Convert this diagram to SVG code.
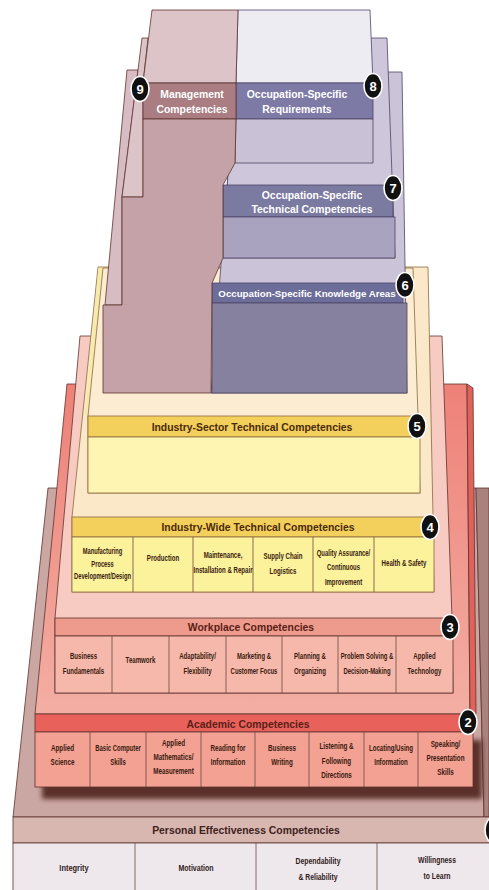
<svg xmlns="http://www.w3.org/2000/svg" width="489" height="890" viewBox="0 0 489 890">
<style>
.o{stroke:#5e332f;stroke-width:.8}
.ol{stroke:#4e4466;stroke-width:.8}
.oy{stroke:#8a6a40;stroke-width:.8}
.dv{stroke:#6e4a42;stroke-width:.8;fill:none}
.t{font-family:"Liberation Sans",Arial,Helvetica,sans-serif;font-weight:bold;text-anchor:middle}
.h{font-size:10.4px}
.w{fill:#ffffff}
.dy{fill:#4a2a0e}
.dr{fill:#5a1e16}
.c{font-size:9px;fill:#3a1a0e}
.p{font-size:9.8px;fill:#2e1a18}
.be{fill:#111111;stroke:#ffffff;stroke-width:1.6}
.bn{font-size:13px;fill:#ffffff}
</style>
<defs>
<linearGradient id="g2" x1="0" y1="0" x2="0" y2="1">
<stop offset="0" stop-color="#ee8178"/>
<stop offset="1" stop-color="#f3aea3"/>
</linearGradient>
<filter id="sh" x="-10%" y="-20%" width="120%" height="140%">
<feGaussianBlur stdDeviation="2.5"/>
</filter>
</defs>
<rect x="0" y="0" width="489" height="890" fill="#ffffff"/>

<g id="tier1-personal">
<polygon class="o" points="48,488 476,488 484,817 13,817" fill="#caa7a3"/>
<polygon class="o" points="476,488 489,488 489,817 484,817" fill="#a9817d"/>
<rect class="o" x="13" y="817" width="478" height="26" fill="#d8b7b1"/>
<rect class="o" x="13" y="843" width="478" height="49" fill="#eee8ed"/>
<line class="dv" x1="135" y1="843" x2="135" y2="890"/>
<line class="dv" x1="256" y1="843" x2="256" y2="890"/>
<line class="dv" x1="377" y1="843" x2="377" y2="890"/>
<text class="t h" x="246" y="834" fill="#3e2220">Personal Effectiveness Competencies</text>
<text class="t p" transform="matrix(.76 0 0 1 74 0)"><tspan x="0" y="871">Integrity</tspan></text>
<text class="t p" transform="matrix(.72 0 0 1 196 0)"><tspan x="0" y="871">Motivation</tspan></text>
<text class="t p" transform="matrix(.7 0 0 1 318 0)"><tspan x="0" y="864">Dependability</tspan><tspan x="0" y="880">&amp; Reliability</tspan></text>
<text class="t p" transform="matrix(.7 0 0 1 437 0)"><tspan x="0" y="863">Willingness</tspan><tspan x="0" y="879">to Learn</tspan></text>
<ellipse class="be" cx="494" cy="830" rx="9" ry="13"/>
</g>

<g id="tier2-academic">
<polygon class="o" points="67,384 467,384 470,714 35,714" fill="url(#g2)"/>
<polygon class="o" points="467,384 473,388 476,714 470,714" fill="#e0625a"/>
<rect x="42" y="740" width="440" height="59" fill="#4a1c18" opacity=".85" filter="url(#sh)"/>
<rect class="o" x="35" y="714" width="436" height="18" fill="#e8625b"/>
<rect class="o" x="35" y="732" width="438" height="55" fill="#f2a193"/>
<line class="dv" x1="90" y1="732" x2="90" y2="787"/>
<line class="dv" x1="146" y1="732" x2="146" y2="787"/>
<line class="dv" x1="201" y1="732" x2="201" y2="787"/>
<line class="dv" x1="255" y1="732" x2="255" y2="787"/>
<line class="dv" x1="309" y1="732" x2="309" y2="787"/>
<line class="dv" x1="364" y1="732" x2="364" y2="787"/>
<line class="dv" x1="418" y1="732" x2="418" y2="787"/>
<text class="t h dr" x="248" y="727.5">Academic Competencies</text>
<text class="t c" transform="matrix(.7 0 0 1 62.5 0)"><tspan x="0" y="751">Applied</tspan><tspan x="0" y="765">Science</tspan></text>
<text class="t c" transform="matrix(.66 0 0 1 118 0)"><tspan x="0" y="751">Basic Computer</tspan><tspan x="0" y="765">Skills</tspan></text>
<text class="t c" transform="matrix(.7 0 0 1 173.5 0)"><tspan x="0" y="746">Applied</tspan><tspan x="0" y="760">Mathematics/</tspan><tspan x="0" y="774">Measurement</tspan></text>
<text class="t c" transform="matrix(.7 0 0 1 228 0)"><tspan x="0" y="751">Reading for</tspan><tspan x="0" y="765">Information</tspan></text>
<text class="t c" transform="matrix(.7 0 0 1 282 0)"><tspan x="0" y="751">Business</tspan><tspan x="0" y="765">Writing</tspan></text>
<text class="t c" transform="matrix(.7 0 0 1 336.5 0)"><tspan x="0" y="749">Listening &amp;</tspan><tspan x="0" y="764">Following</tspan><tspan x="0" y="778">Directions</tspan></text>
<text class="t c" transform="matrix(.68 0 0 1 391 0)"><tspan x="0" y="751">Locating/Using</tspan><tspan x="0" y="765">Information</tspan></text>
<text class="t c" transform="matrix(.7 0 0 1 445.5 0)"><tspan x="0" y="747">Speaking/</tspan><tspan x="0" y="761">Presentation</tspan><tspan x="0" y="775">Skills</tspan></text>
<ellipse class="be" cx="468" cy="722" rx="9" ry="12.5"/>
<text class="t bn" x="468" y="726.5">2</text>
</g>

<g id="tier3-workplace">
<polygon class="o" points="80,336 442,336 452,618 453,693 55,693 55,618" fill="#f8cbc2"/>
<rect class="o" x="55" y="618" width="395" height="18" fill="#ee9b8d"/>
<rect class="o" x="55" y="636" width="398" height="57" fill="#f5b8aa"/>
<line class="dv" x1="112" y1="636" x2="112" y2="693"/>
<line class="dv" x1="169" y1="636" x2="169" y2="693"/>
<line class="dv" x1="226" y1="636" x2="226" y2="693"/>
<line class="dv" x1="282" y1="636" x2="282" y2="693"/>
<line class="dv" x1="338" y1="636" x2="338" y2="693"/>
<line class="dv" x1="396" y1="636" x2="396" y2="693"/>
<text class="t h dr" x="251" y="631">Workplace Competencies</text>
<text class="t c" transform="matrix(.68 0 0 1 83.5 0)"><tspan x="0" y="659">Business</tspan><tspan x="0" y="674">Fundamentals</tspan></text>
<text class="t c" transform="matrix(.68 0 0 1 140.5 0)"><tspan x="0" y="663">Teamwork</tspan></text>
<text class="t c" transform="matrix(.68 0 0 1 197.5 0)"><tspan x="0" y="659">Adaptability/</tspan><tspan x="0" y="674">Flexibility</tspan></text>
<text class="t c" transform="matrix(.66 0 0 1 254 0)"><tspan x="0" y="659">Marketing &amp;</tspan><tspan x="0" y="674">Customer Focus</tspan></text>
<text class="t c" transform="matrix(.68 0 0 1 310 0)"><tspan x="0" y="659">Planning &amp;</tspan><tspan x="0" y="674">Organizing</tspan></text>
<text class="t c" transform="matrix(.66 0 0 1 367 0)"><tspan x="0" y="659">Problem Solving &amp;</tspan><tspan x="0" y="674">Decision-Making</tspan></text>
<text class="t c" transform="matrix(.68 0 0 1 424.5 0)"><tspan x="0" y="659">Applied</tspan><tspan x="0" y="674">Technology</tspan></text>
<ellipse class="be" cx="450" cy="627" rx="9" ry="12.5"/>
<text class="t bn" x="450" y="631.5">3</text>
</g>

<g id="tier4-industry-wide">
<polygon class="oy" points="98,267 428,267 433,517 434,592 72,592 72,517" fill="#fbe8c9"/>
<polygon points="98.5,268 103,268 88,416 85,416" fill="#f8eaa8"/>
<rect class="oy" x="72" y="517" width="353" height="20" fill="#f3cf5b"/>
<rect class="oy" x="72" y="537" width="362" height="55" fill="#fcf29b"/>
<line class="dv" x1="133" y1="537" x2="133" y2="592"/>
<line class="dv" x1="193" y1="537" x2="193" y2="592"/>
<line class="dv" x1="253" y1="537" x2="253" y2="592"/>
<line class="dv" x1="313" y1="537" x2="313" y2="592"/>
<line class="dv" x1="374" y1="537" x2="374" y2="592"/>
<text class="t h dy" x="258" y="530.5">Industry-Wide Technical Competencies</text>
<text class="t c" transform="matrix(.64 0 0 1 102.5 0)"><tspan x="0" y="554.5">Manufacturing</tspan><tspan x="0" y="567">Process</tspan><tspan x="0" y="579.5">Development/Design</tspan></text>
<text class="t c" transform="matrix(.68 0 0 1 163 0)"><tspan x="0" y="561">Production</tspan></text>
<text class="t c" transform="matrix(.68 0 0 1 223 0)"><tspan x="0" y="558">Maintenance,</tspan><tspan x="0" y="573">Installation &amp; Repair</tspan></text>
<text class="t c" transform="matrix(.68 0 0 1 283 0)"><tspan x="0" y="559">Supply Chain</tspan><tspan x="0" y="574">Logistics</tspan></text>
<text class="t c" transform="matrix(.66 0 0 1 343.5 0)"><tspan x="0" y="556">Quality Assurance/</tspan><tspan x="0" y="570">Continuous</tspan><tspan x="0" y="585">Improvement</tspan></text>
<text class="t c" transform="matrix(.68 0 0 1 404 0)"><tspan x="0" y="566">Health &amp; Safety</tspan></text>
<ellipse class="be" cx="430" cy="527" rx="9" ry="12.5"/>
<text class="t bn" x="430" y="531.5">4</text>
</g>

<g id="tier5-industry-sector">
<polygon class="oy" points="103,268 413,268 418,416 420,493 88,493 88,416" fill="#fcecd2"/>
<rect class="oy" x="88" y="416" width="326" height="21" fill="#f3cf5b"/>
<rect class="oy" x="88" y="437" width="332" height="56" fill="#fdf5b1"/>
<text class="t h dy" x="252" y="430.5">Industry-Sector Technical Competencies</text>
<ellipse class="be" cx="417" cy="426" rx="9" ry="12.5"/>
<text class="t bn" x="417" y="430.5">5</text>
</g>

<g id="tier6-knowledge-areas">
<polygon class="ol" points="236,72 402,72 407,393 211,393" fill="#cbc4d8"/>
<polygon class="o" points="127,70 138,70 122,197 122,305 105,305" fill="#d7bdc3"/>
<rect class="ol" x="212" y="283" width="191" height="20" fill="#6c6d99"/>
<rect class="ol" x="212" y="303" width="195" height="90" fill="#86819f"/>
<text class="t w" x="307" y="296.5" font-size="9.7px">Occupation-Specific Knowledge Areas</text>
<ellipse class="be" cx="405" cy="285" rx="9" ry="12.5"/>
<text class="t bn" x="405" y="289.5">6</text>
</g>

<g id="tier7-technical">
<polygon class="ol" points="236,38 387,38 395,258 223,258" fill="#cec7db"/>
<polygon class="o" points="142,38 148,38 143,83 143,197 122,197" fill="#dcc4c9"/>
<rect class="ol" x="223" y="185" width="170" height="32" fill="#7b7aa0"/>
<rect class="ol" x="223" y="217" width="172" height="41" fill="#aaa3c0"/>
<text class="t h w"><tspan x="312" y="199">Occupation-Specific</tspan><tspan x="312" y="213">Technical Competencies</tspan></text>
<ellipse class="be" cx="393" cy="188" rx="9" ry="12.5"/>
<text class="t bn" x="393" y="192.5">7</text>
</g>

<g id="tier8-requirements">
<polygon class="ol" points="238,10 370,10 373,83 236,83" fill="#eeecf3"/>
<rect class="ol" x="236" y="83" width="137" height="36" fill="#7d7ba5"/>
<polygon class="ol" points="236,119 373,119 373,163 235,163" fill="#c9c1d6"/>
<text class="t h w"><tspan x="297" y="98">Occupation-Specific</tspan><tspan x="297" y="113">Requirements</tspan></text>
<ellipse class="be" cx="373" cy="86" rx="9" ry="12.5"/>
<text class="t bn" x="373" y="90.5">8</text>
</g>

<g id="tier9-management">
<polygon class="o" points="152,10 238,10 236,83 143,83" fill="#dcc4c8"/>
<rect class="o" x="143" y="83" width="93" height="36" fill="#a97d82"/>
<polygon class="o" points="143,119 236,119 235,163 223,185 223,258 212,283 211,393 103,393 103,305 122,305 122,197 143,197" fill="#c4a2a7"/>
<text class="t h w"><tspan x="192" y="98">Management</tspan><tspan x="192" y="113">Competencies</tspan></text>
<ellipse class="be" cx="140" cy="89" rx="9" ry="12.5"/>
<text class="t bn" x="140" y="93.5">9</text>
</g>

<g id="connectors"></g>
</svg>
